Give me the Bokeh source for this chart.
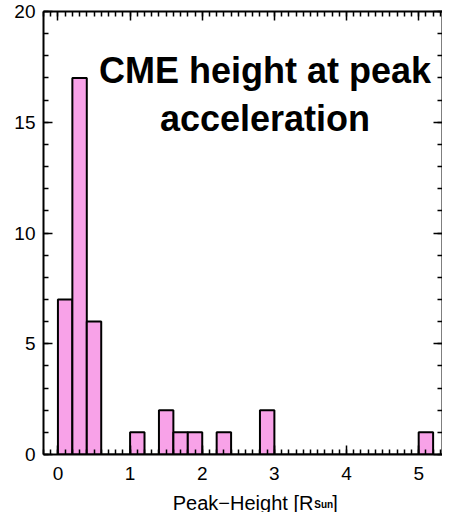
from bokeh.plotting import figure
from bokeh.layouts import column
from bokeh.models import Range1d, LinearAxis, Label, SingleIntervalTicker, CustomJSTickFormatter, ColumnDataSource
from bokeh.core.properties import value
from bokeh.embed import file_html
from bokeh.resources import INLINE

# ---- data ----
bin_starts = [0.0, 0.2, 0.4, 0.6, 0.8, 1.0, 1.2, 1.4, 1.6, 1.8, 2.0, 2.2, 2.4,
              2.6, 2.8, 3.0, 3.2, 3.4, 3.6, 3.8, 4.0, 4.2, 4.4, 4.6, 4.8, 5.0]
bin_width = 0.2
counts = [7, 17, 6, 0, 0, 1, 0, 2, 1, 1, 0, 1, 0, 0, 2, 0, 0, 0, 0, 0, 0, 0, 0, 0, 0, 1]
title_lines = ["CME height at peak", "acceleration"]
x_label_main = "Peak\u2212Height [R"
x_label_sub = "Sun"
x_label_end = "]"

W = 442
src = ColumnDataSource(dict(
    left=bin_starts,
    right=[b + bin_width for b in bin_starts],
    top=counts,
    bottom=[0] * len(counts),
))

p = figure(width=W, height=489, output_backend="svg", toolbar_location=None, title=None,
           x_range=Range1d(-0.2, 5.33), y_range=Range1d(0, 20),
           min_border_left=43, min_border_top=11, min_border_right=0, min_border_bottom=35,
           background_fill_color="white", border_fill_color="white")
p.grid.visible = False
p.outline_line_color = None

p.quad(left="left", right="right", top="top", bottom="bottom", source=src,
       fill_color="#f8a2e8", line_color="black", line_width=2)

TICK_FONT = "Liberation Sans"

def style(ax, labels=True):
    ax.axis_line_width = 2
    ax.axis_line_color = "black"
    ax.major_tick_in = 9
    ax.major_tick_out = 0
    ax.minor_tick_in = 5
    ax.minor_tick_out = 0
    ax.major_tick_line_width = 1.5
    ax.minor_tick_line_width = 1.5
    ax.major_tick_line_color = "black"
    ax.minor_tick_line_color = "black"
    if labels:
        ax.major_label_text_font = TICK_FONT
        ax.major_label_text_font_size = "19px"
        ax.major_label_text_color = "black"
    else:
        ax.formatter = CustomJSTickFormatter(code="return ''")
        ax.major_label_text_font_size = "0px"
        ax.major_label_standoff = 0

p.xaxis.ticker = SingleIntervalTicker(interval=1, num_minor_ticks=10)
p.yaxis.ticker = SingleIntervalTicker(interval=5, num_minor_ticks=5)
style(p.xaxis[0])
style(p.yaxis[0])
p.xaxis.major_label_standoff = 12
p.yaxis.major_label_standoff = 8

top_ax = LinearAxis(ticker=SingleIntervalTicker(interval=1, num_minor_ticks=10))
style(top_ax, labels=False)
p.add_layout(top_ax, "above")
right_ax = LinearAxis(ticker=SingleIntervalTicker(interval=5, num_minor_ticks=5))
style(right_ax, labels=False)
p.add_layout(right_ax, "right")

# title inside the plot
for txt, yy in zip(title_lines, [17.35, 15.15]):
    p.add_layout(Label(x=2.87, y=yy, text=txt, text_align="center",
                       text_baseline="alphabetic", text_font="Liberation Sans",
                       text_font_style="bold", text_font_size="36px", text_color="black"))

# x axis label strip (with subscript) below the plot
H2 = 23
p2 = figure(width=W, height=H2, output_backend="svg", toolbar_location=None, title=None,
            x_range=Range1d(0, W), y_range=Range1d(0, H2),
            min_border_left=0, min_border_right=0, min_border_top=0, min_border_bottom=0,
            x_axis_location=None, y_axis_location=None)
p2.grid.visible = False
p2.outline_line_color = None
p2.text(x=[299], y=[10], text=[x_label_main], text_align="right", text_baseline="alphabetic",
        text_font=value("Liberation Sans"), text_font_size=value("20px"), text_color="black")
p2.text(x=[300], y=[8], text=[x_label_sub], text_align="left", text_baseline="alphabetic",
        text_font=value("Liberation Sans"), text_font_style="bold",
        text_font_size=value("10px"), text_color="black")
p2.text(x=[320], y=[10], text=[x_label_end], text_align="left", text_baseline="alphabetic",
        text_font=value("Liberation Sans"), text_font_size=value("20px"), text_color="black")

layout = column(p, p2, spacing=0)
open("out.html", "w").write(file_html(layout, INLINE))
